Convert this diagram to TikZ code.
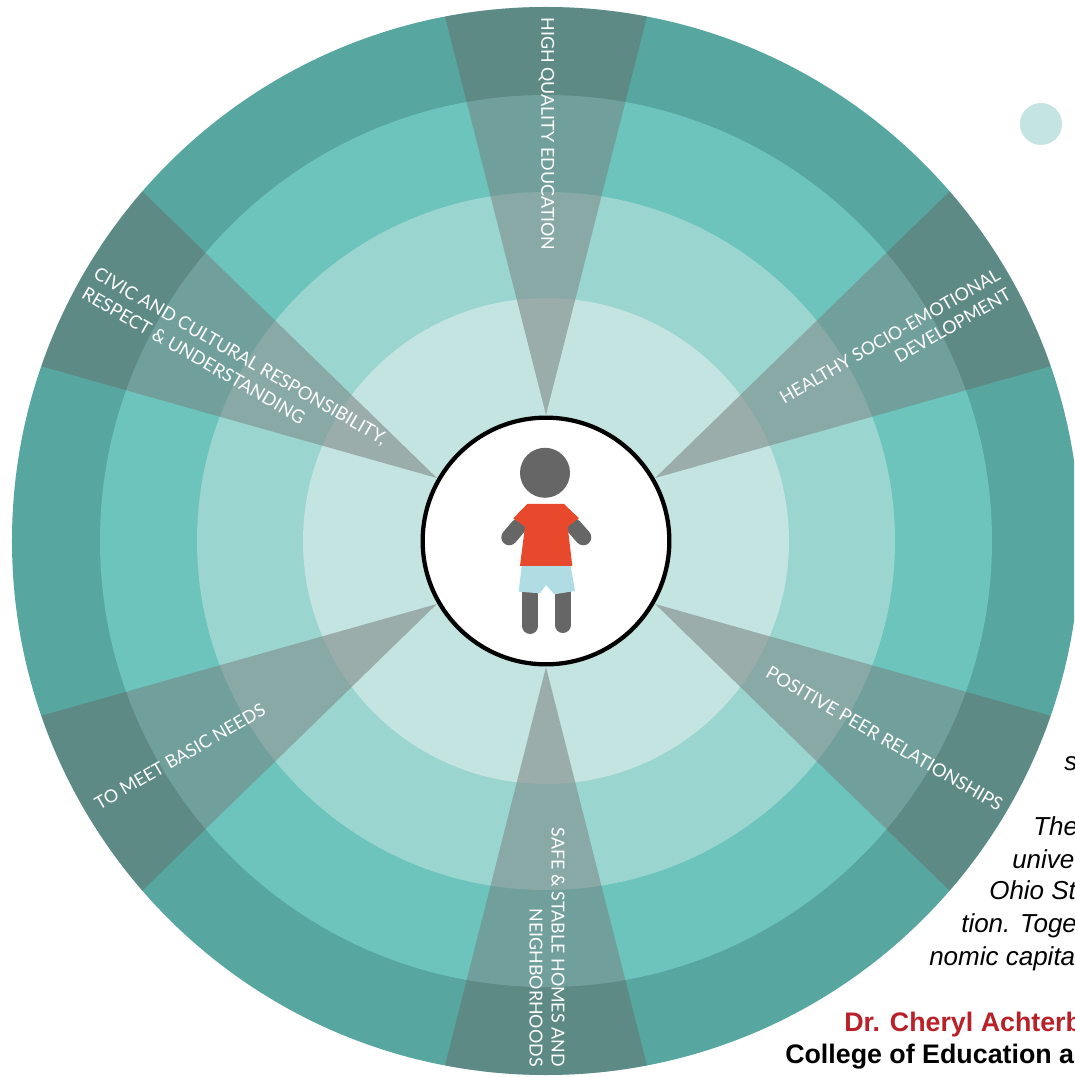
\documentclass[tikz,border=0pt]{standalone}
\usepackage{fontspec}
\setmainfont{Liberation Sans}
\newfontfamily\labelfont{Lato}
\usetikzlibrary{shapes}
\definecolor{ringa}{HTML}{58A6A0}
\definecolor{ringb}{HTML}{6CC4BD}
\definecolor{ringc}{HTML}{9AD5CF}
\definecolor{ringd}{HTML}{C3E4E0}
\definecolor{gr}{HTML}{666666}
\definecolor{shirt}{HTML}{E8492C}
\definecolor{shorts}{HTML}{B0DDE3}
\definecolor{drred}{HTML}{B92028}
\tikzstyle{ring}=[circle,inner sep=0pt,outer sep=0pt]
\tikzstyle{sector}=[fill=gr,opacity=0.43]
\tikzstyle{limb}=[draw=gr,line width=12pt,line cap=round]
\tikzstyle{topic}=[text=white,font=\labelfont\fontsize{13.4}{16.5}\selectfont,inner sep=0pt]
\tikzstyle{topicwide}=[text=white,font=\labelfont\fontsize{13.7}{17.5}\selectfont,inner sep=0pt]
\tikzstyle{body}=[font=\itshape\fontsize{19.5}{24}\selectfont,anchor=base west,inner sep=0pt]
\tikzstyle{sign}=[font=\bfseries\fontsize{20.1}{24}\selectfont,anchor=base west,inner sep=0pt]
\newcommand{\sectorpath}[1]{(#1:126) -- (#1+10.9:534) arc[start angle=#1+10.9,end angle=#1-10.9,radius=534] -- cycle}
\begin{document}
\begin{tikzpicture}[x=0.75pt,y=0.75pt]

	\clip (-546,-536) rectangle (528,541);
	\useasboundingbox (-546,-536) rectangle (528,541);

	\draw node [ring,fill=ringa,minimum size=801pt] (ringA) at (0,0) {};
	\draw node [ring,fill=ringb,minimum size=669pt] (ringB) at (0,0) {};
	\draw node [ring,fill=ringc,minimum size=523.5pt] (ringC) at (0,0) {};
	\draw node [ring,fill=ringd,minimum size=364.5pt] (ringD) at (0,0) {};
	\draw node [ring,fill=ringd,minimum size=31.5pt] (dot) at (495,417) {};

	% six sectors
	\fill[sector] \sectorpath{90};
	\fill[sector] \sectorpath{30};
	\fill[sector] \sectorpath{-30};
	\fill[sector] \sectorpath{-90};
	\fill[sector] \sectorpath{210};
	\fill[sector] \sectorpath{150};

	% the two middle bands are paler inside the sectors
	\begin{scope}
	\clip \sectorpath{90} \sectorpath{30} \sectorpath{-30} \sectorpath{-90} \sectorpath{210} \sectorpath{150};
	\fill[white,opacity=0.055,even odd rule] (0,0) circle (446) (0,0) circle (243);
	\end{scope}

	\draw node [ring,draw=black,line width=3.2pt,fill=white,minimum size=185pt] (hub) at (0,0) {};

	% child
	\draw node [ring,fill=gr,minimum size=37.5pt] (head) at (-1,68.2) {};
	\draw[limb] (-27.7,14.3) -- (-36.7,3.7);
	\draw[limb] (28,14.3) -- (37.3,3.7);
	\draw[limb] (-15.7,-45) -- (-15.7,-85);
	\draw[limb] (16.7,-45) -- (16.7,-84);
	\fill[shirt] (-18.7,37) -- (18,37) -- (33,22.7) -- (21.7,14.3) -- (26.3,-25) -- (-26,-25) -- (-21,14.3) -- (-32.7,22.7) -- cycle;
	\fill[shorts] (-24.3,-25.2) -- (24.7,-25.2) -- (29,-50) -- (8.3,-53.3) -- (0,-44) -- (-6,-52.3) -- (-27.3,-50.7) -- cycle;

	% labels
	\draw node [topic,rotate=-90] (quality) at (0.5,407) {HIGH QUALITY EDUCATION};
	\draw node [topic,rotate=30,anchor=east,align=right] (socio) at (458,258) {HEALTHY SOCIO-EMOTIONAL\\DEVELOPMENT};
	\draw node [topicwide,rotate=-30] (peer) at (338.5,-197.5) {POSITIVE PEER RELATIONSHIPS};
	\draw node [topic,rotate=-90,anchor=east,align=right] (homes) at (1,-526) {SAFE \& STABLE HOMES AND\\NEIGHBORHOODS};
	\draw node [topic,rotate=30] (needs) at (-366,-215.5) {TO MEET BASIC NEEDS};
	\draw node [topicwide,rotate=-30,anchor=west,align=left] (civic) at (-456.5,259) {CIVIC AND CULTURAL RESPONSIBILITY,\\RESPECT \& UNDERSTANDING};

	% text cut by the page edge
	\draw node [body] (lineA) at (518,-229) {s};
	\draw node [body] (lineB) at (487,-294) {The};
	\draw node [body] (lineC) at (466,-327) {unive};
	\draw node [body] (lineD) at (443,-358) {Ohio St};
	\draw node [body] (lineE) at (415,-391) {tion. Toge};
	\draw node [body] (lineF) at (383,-424) {nomic capita};
	\draw node [sign,text=drred] (doctor) at (298,-490) {Dr. Cheryl Achterb};
	\draw node [sign] (college) at (239,-522) {College of Education a};

\end{tikzpicture}
\end{document}
